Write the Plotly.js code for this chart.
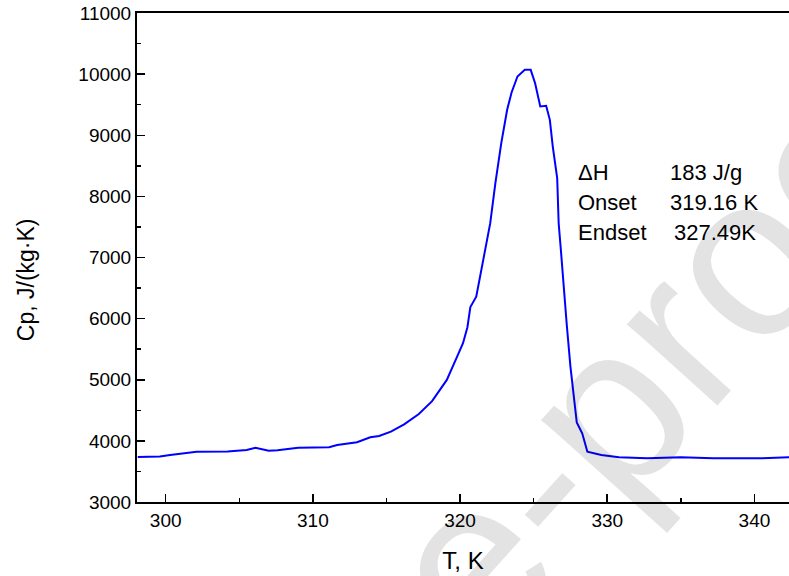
<!DOCTYPE html>
<html>
<head>
<meta charset="utf-8">
<script src="https://cdn.plot.ly/plotly-3.0.1.min.js"></script>
<style>html,body{margin:0;padding:0;background:#fff;}#chart{width:789px;height:576px;}</style>
</head>
<body>
<div id="chart"></div>
<script>
// Temperature, K
var temperature = [298.1, 299.6, 300.3, 302.1, 304.2, 305.5, 306.1, 307.0, 307.6, 309.0, 311.1, 311.65, 313.0, 313.9, 314.5, 315.3, 316.2, 317.2, 318.1, 319.1, 319.8, 320.2, 320.5, 320.7, 321.1, 321.4, 321.7, 322.05, 322.4, 322.8, 323.2, 323.5, 323.9, 324.4, 324.8, 325.1, 325.45, 325.85, 326.1, 326.3, 326.6, 326.7, 326.85, 327.0, 327.25, 327.5, 327.7, 327.93, 328.3, 328.65, 329.6, 330.8, 332.7, 335.0, 337.2, 340.4, 342.4];
// Specific heat Cp, J/(kg·K)
var cp = [3735, 3745, 3770, 3823, 3825, 3850, 3889, 3838, 3846, 3889, 3895, 3933, 3977, 4060, 4080, 4150, 4270, 4440, 4650, 4997, 5378, 5597, 5860, 6190, 6360, 6743, 7152, 7561, 8216, 8871, 9416, 9700, 9961, 10070, 10070, 9852, 9470, 9481, 9252, 8815, 8300, 7560, 7124, 6600, 5900, 5214, 4779, 4300, 4124, 3823, 3769, 3731, 3715, 3731, 3715, 3715, 3731];

var xTicks = [300, 310, 320, 330, 340];
var yTicks = [3000, 4000, 5000, 6000, 7000, 8000, 9000, 10000, 11000];

var infoLabels = ["\u0394H", "Onset", "Endset"];
var infoValues = ["183 J/g", "319.16 K", "327.49K"];

var FONT = "Liberation Sans, Arial, sans-serif";

var trace = {
  x: temperature, y: cp, type: "scatter", mode: "lines",
  line: {color: "#0000ff", width: 2},
  hoverinfo: "skip"
};

var annotations = [];
// watermark (drawn first, behind other texts)
annotations.push({xref: "paper", yref: "paper", x: 0.279, y: -0.466, xanchor: "center", yanchor: "middle",
  text: "Journal Pre-proof", showarrow: false, textangle: -48,
  font: {family: FONT, size: 230, color: "rgba(0,0,0,0.11)"}});

var rowY = [0.674, 0.613, 0.552];
var valX = [0.8144, 0.8144, 0.8206];
for (var i = 0; i < infoLabels.length; i++) {
  annotations.push({xref: "paper", yref: "paper", x: 0.674, y: rowY[i], xanchor: "left", yanchor: "middle",
    text: infoLabels[i], showarrow: false, font: {family: FONT, size: 22, color: "#000"}});
  annotations.push({xref: "paper", yref: "paper", x: valX[i], y: rowY[i], xanchor: "left", yanchor: "middle",
    text: infoValues[i], showarrow: false, font: {family: FONT, size: 22, color: "#000"}});
}
// y-axis title placed as in the reference (slightly below axis centre)
annotations.push({xref: "paper", yref: "paper", x: -0.170, y: 0.454, xanchor: "center", yanchor: "middle",
  text: "Cp, J/(kg\u00b7K)", showarrow: false, textangle: -90,
  font: {family: FONT, size: 23, color: "#000"}});

var layout = {
  width: 789, height: 576,
  margin: {l: 137, r: 0, t: 13, b: 74},
  paper_bgcolor: "#fff", plot_bgcolor: "#fff",
  showlegend: false,
  font: {family: FONT, color: "#000"},
  xaxis: {
    range: [298.05, 342.35], tickvals: xTicks, ticktext: xTicks.map(String),
    ticks: "inside", ticklen: 8, tickwidth: 1.5, tickcolor: "#000",
    minor: {dtick: 5, ticks: "inside", ticklen: 4, tickwidth: 1.5, tickcolor: "#000"},
    showline: true, linecolor: "#000", linewidth: 2, mirror: true,
    showgrid: false, zeroline: false,
    tickfont: {family: FONT, size: 19, color: "#000"},
    title: {text: "T, K", font: {family: FONT, size: 24, color: "#000"}, standoff: 22}
  },
  yaxis: {
    range: [3000, 11000], tickvals: yTicks, ticktext: yTicks.map(String),
    ticks: "inside", ticklen: 8, tickwidth: 1.5, tickcolor: "#000",
    minor: {dtick: 500, ticks: "inside", ticklen: 4, tickwidth: 1.5, tickcolor: "#000"},
    showline: true, linecolor: "#000", linewidth: 2, mirror: false,
    showgrid: false, zeroline: false,
    tickfont: {family: FONT, size: 19, color: "#000"}
  },
  annotations: annotations
};

Plotly.newPlot("chart", [trace], layout, {displayModeBar: false, staticPlot: true});
</script>
</body>
</html>
